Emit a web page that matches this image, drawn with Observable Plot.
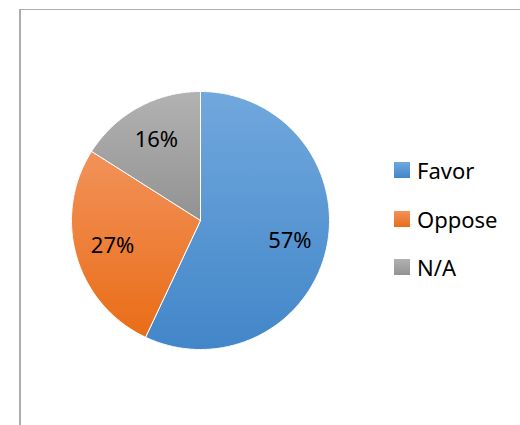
<!DOCTYPE html>
<html>
<head>
<meta charset="utf-8">
<script src="https://cdn.jsdelivr.net/npm/d3@7"></script>
<script src="https://cdn.jsdelivr.net/npm/@observablehq/plot@0.6"></script>
<style>
  html, body { margin: 0; padding: 0; background: #fff; }
  #wrap { position: relative; width: 520px; height: 425px; overflow: hidden; font-family: "Noto Sans", sans-serif; }
  #frame { position: absolute; left: 19px; top: 9px; width: 600px; height: 500px; border-left: 2px solid #adadad; border-top: 1px solid #adadad; box-sizing: border-box; }
  #chart { position: absolute; left: 0; top: 0; }
  .leg { position: absolute; left: 394px; display: flex; align-items: center; height: 22px; font-size: 22px; color: #000; }
  .leg .sw { width: 16px; height: 16px; margin-right: 7px; }
</style>
</head>
<body>
<div id="wrap">
  <div id="frame"></div>
  <div id="chart"></div>
  <div id="legend"></div>
</div>
<script>
const categories = ["Favor", "Oppose", "N/A"];
const values = [57, 27, 16];
const labels = ["57%", "27%", "16%"];
const gradTop = ["#71a8dd", "#f2925a", "#b2b2b2"];
const gradBottom = ["#4286c9", "#e96d17", "#929292"];

const arcs = d3.pie().sort(null)(values);

// Polygon outline for each slice (unit circle, angle clockwise from top)
const polys = [];
arcs.forEach((a, i) => {
  const cat = categories[i];
  polys.push({cat, x: 0, y: 0});
  const n = Math.max(2, Math.ceil((a.endAngle - a.startAngle) / 0.01));
  for (let k = 0; k <= n; k++) {
    const t = a.startAngle + (a.endAngle - a.startAngle) * k / n;
    polys.push({cat, x: Math.sin(t), y: Math.cos(t)});
  }
  polys.push({cat, x: 0, y: 0});
});

const labelData = arcs.map((a, i) => {
  const m = (a.startAngle + a.endAngle) / 2;
  return {text: labels[i], x: 0.71 * Math.sin(m), y: 0.71 * Math.cos(m)};
});

const defs = () => {
  const ns = "http://www.w3.org/2000/svg";
  const d = document.createElementNS(ns, "defs");
  categories.forEach((c, i) => {
    const g = document.createElementNS(ns, "linearGradient");
    g.setAttribute("id", "g" + i);
    g.setAttribute("x1", "0"); g.setAttribute("y1", "0");
    g.setAttribute("x2", "0"); g.setAttribute("y2", "1");
    const s1 = document.createElementNS(ns, "stop");
    s1.setAttribute("offset", "0"); s1.setAttribute("stop-color", gradTop[i]);
    const s2 = document.createElementNS(ns, "stop");
    s2.setAttribute("offset", "1"); s2.setAttribute("stop-color", gradBottom[i]);
    g.appendChild(s1); g.appendChild(s2);
    d.appendChild(g);
  });
  return d;
};

const chart = Plot.plot({
  width: 520,
  height: 425,
  margin: 0,
  style: {background: "transparent", fontFamily: "Noto Sans"},
  x: {domain: [-1, 1], range: [71, 329], axis: null},
  y: {domain: [-1, 1], range: [349, 91], axis: null},
  color: {domain: categories, range: categories.map((c, i) => `url(#g${i})`)},
  marks: [
    defs,
    Plot.line(polys, {x: "x", y: "y", z: "cat", fill: "cat", stroke: "white", strokeWidth: 1, strokeLinejoin: "round"}),
    Plot.text(labelData, {x: "x", y: "y", text: "text", fontSize: 22, fill: "#000"})
  ]
});
document.getElementById("chart").appendChild(chart);

const legend = document.getElementById("legend");
const legendTop = [159, 208, 256];
categories.forEach((c, i) => {
  const row = document.createElement("div");
  row.className = "leg";
  row.style.top = legendTop[i] + "px";
  const sw = document.createElement("div");
  sw.className = "sw";
  sw.style.background = `linear-gradient(${gradTop[i]}, ${gradBottom[i]})`;
  const tx = document.createElement("span");
  tx.textContent = c;
  row.appendChild(sw); row.appendChild(tx);
  legend.appendChild(row);
});
</script>
</body>
</html>
